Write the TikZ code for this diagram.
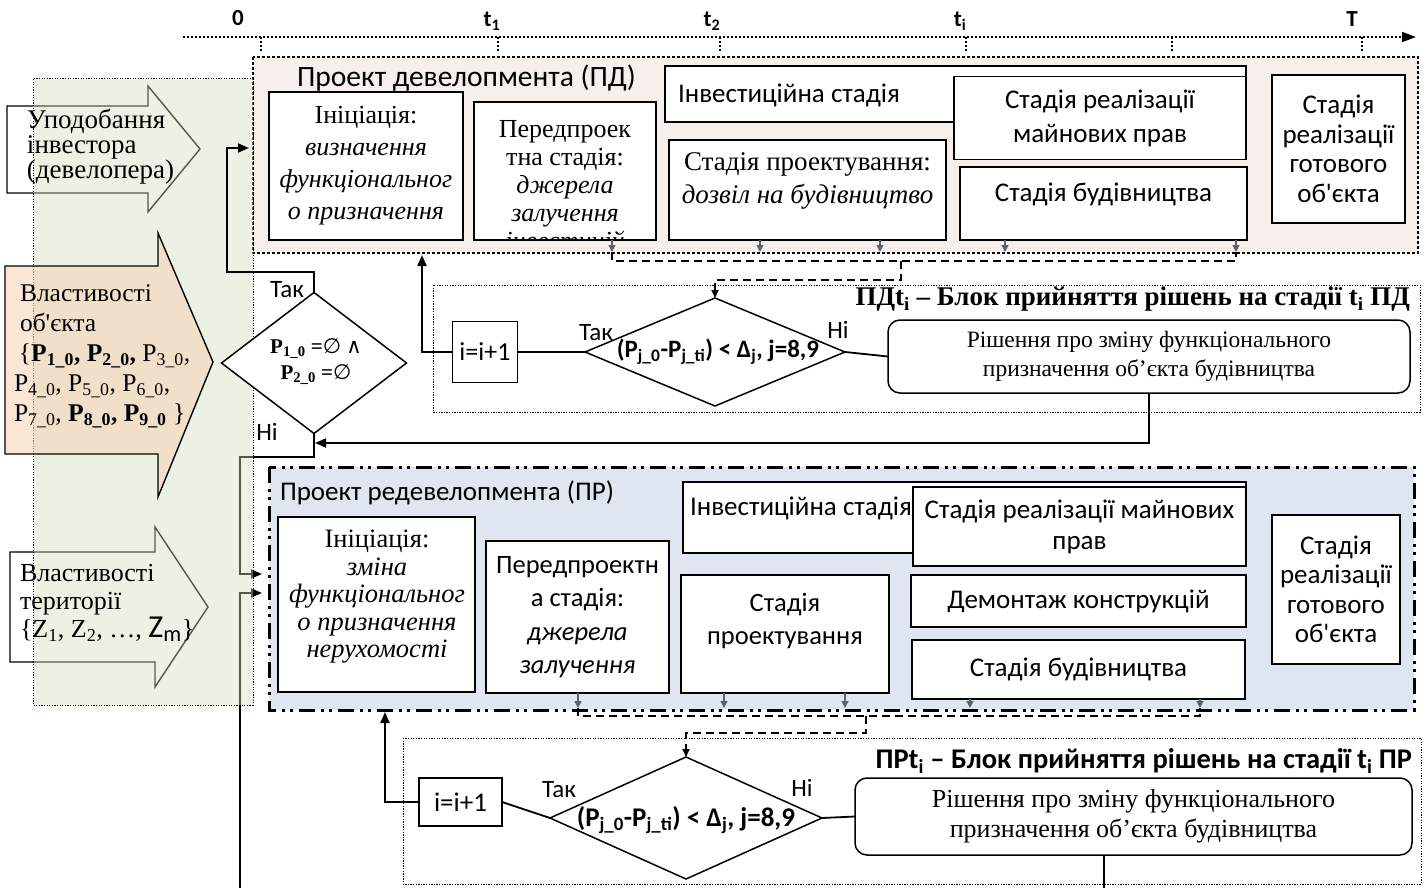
\documentclass[tikz,border=0pt]{standalone}
\usepackage{fontspec}
\setmainfont{Liberation Serif}
\setsansfont{Carlito}
\newfontfamily\symf{DejaVu Sans}
\usetikzlibrary{arrows.meta,shapes.geometric}
\definecolor{pdfill}{HTML}{F7EFEC}
\definecolor{prfill}{HTML}{DFE6F1}
\definecolor{grn}{HTML}{D2DCB9}
\definecolor{peach}{HTML}{F5D5B8}
\definecolor{tickgray}{HTML}{5A626B}
\newcommand{\fsz}[2]{\fontsize{#1pt}{#2pt}\selectfont}
\newcommand{\sbs}[1]{\textsubscript{#1}}
\newcommand{\apo}{\textquotesingle}
\pgfdeclarelayer{bg}
\pgfsetlayers{bg,main}
\tikzset{
  every node/.style={inner sep=0pt, outer sep=0pt},
  stagebox/.style={draw, line width=1.5pt, fill=white, align=center},
  sansA/.style={font=\sffamily\fsz{27}{34}, align=center},
  conn/.style={line width=1.8pt},
  arr/.style={conn, -{Triangle[length=11pt,width=9pt]}},
  tickarr/.style={draw=tickgray, line width=1.3pt, -{Triangle[length=7pt,width=7pt]}},
  dashconn/.style={line width=1.8pt, dash pattern=on 8pt off 5pt},
  pdframe/.style={draw, line width=2.6pt, dash pattern=on 3pt off 2pt, fill=pdfill},
  prframe/.style={draw, line width=3pt, dash pattern=on 16pt off 6pt on 3pt off 5pt on 3pt off 6pt, fill=prfill},
  thinframe/.style={draw, line width=1pt, dash pattern=on 1.3pt off 1.3pt},
  bigarrow/.style={draw, line width=1.4pt},
  lbl/.style={font=\sffamily\fsz{25}{26}},
  axislbl/.style={font=\sffamily\bfseries\fsz{23}{24}},
  decdia/.style={draw, diamond, line width=1.5pt, fill=white},
}
\begin{document}
\begin{tikzpicture}[x=1pt,y=-1pt]
\useasboundingbox (0,0) rectangle (1428,888);
\clip (0,0) rectangle (1428,888);
% time axis
\coordinate (ax0) at (183,37);
\coordinate (ax1) at (1416,37);
\draw[line width=1.6pt, dash pattern=on 2pt off 2pt, -{Triangle[length=14pt,width=10pt]}] (ax0) -- (ax1);
\foreach \x [count=\i] in {261,498,720,966,1172,1362} {
  \coordinate (tk\i) at (\x,37);
  \draw[line width=1.3pt, dash pattern=on 2pt off 2pt] (tk\i) -- ++(0,15);
}
\node[axislbl] (l0) at (238,18) {0};
\node[axislbl] (l1) at (492,21) {t\sbs{1}};
\node[axislbl] (l2) at (712,21) {t\sbs{2}};
\node[axislbl] (l3) at (960,21) {t\sbs{i}};
\node[axislbl] (l4) at (1352,19) {T};
% frames
\path[pdframe] (253,57) rectangle (1418,253);
\path[prframe] (269,467) rectangle (1414,710);
% left arrow shapes (under the green field)
\path[bigarrow, fill=white] (7,106) -- (148,106) -- (148,86) -- (200,149) -- (148,212) -- (148,193) -- (7,193) -- cycle;
\path[bigarrow, fill=white] (10,552) -- (155,552) -- (155,527) -- (208,607) -- (155,687) -- (155,662) -- (10,662) -- cycle;
% green field
\path[fill=grn, fill opacity=0.4, draw, line width=1pt, dash pattern=on 1.3pt off 1.3pt] (33,79) rectangle (253,705);
% peach arrow
\path[bigarrow, fill=peach, fill opacity=0.6] (5,266) -- (158,266) -- (158,233) -- (213,362) -- (158,497) -- (158,454) -- (5,454) -- cycle;
% arrow texts
\node[anchor=west, align=left, font=\fsz{27}{25}] (invtxt) at (27,147) {Уподобання\\інвестора\\(девелопера)};
\node[anchor=west, align=left, font=\fsz{25.5}{30}] (objtxt) at (14,356) {\hspace*{6pt}Властивості\\\hspace*{6pt}об\apo єкта\\\hspace*{5pt}\{\textbf{P\sbs{1\_0}, P\sbs{2\_0},} P\sbs{3\_0},\\P\sbs{4\_0}, P\sbs{5\_0}, P\sbs{6\_0},\\P\sbs{7\_0}, \textbf{P\sbs{8\_0}, P\sbs{9\_0}} \}};
\node[anchor=west, align=left, font=\fsz{26}{28}] (terrtxt) at (20,603) {Властивості\\території\\\{Z\sbs{1}, Z\sbs{2}, …, {\sffamily\fsz{32}{30}Z\sbs{m}}\}};
% P1 decision
\node[decdia, minimum width=185pt, minimum height=141pt] (p1dia) at (314,363) {};
\node[font=\bfseries\fsz{21}{26}, align=center] (p1txt) at (316,362) {P\sbs{1\_0} ={\symf\mdseries ∅} {\symf\mdseries ∧}\\P\sbs{2\_0} ={\symf\mdseries ∅}};
\node[lbl] (yes1) at (287,290) {Так};
\node[lbl] (no1) at (267,432) {Ні};
% PD project
\node[anchor=west, font=\sffamily\fsz{29.5}{30}] (pdtitle) at (297,78) {Проект девелопмента (ПД)};
\node[stagebox, minimum width=194pt, minimum height=148pt, font=\fsz{26}{32}] (pdinit) at (366,166) {Ініціація:\\\textit{визначення}\\\textit{функціональног}\\\textit{о призначення}};
\node[stagebox, minimum width=182pt, minimum height=138pt] (pdpre) at (565,171) {};
\begin{scope}
\clip (pdpre.south west) rectangle (pdpre.north east);
\node[font=\fsz{26}{28}, align=center] (pdpretxt) at (565,188) {Передпроек\\тна стадія:\\\textit{джерела}\\\textit{залучення}\\\textit{інвестицій}};
\end{scope}
\draw[line width=1.5pt] (pdpre.south west) rectangle (pdpre.north east);
\node[stagebox, minimum width=581pt, minimum height=56pt] (pdinv) at (955.5,94) {};
\node[sansA, anchor=west] (pdinvtxt) at (678,95) {Інвестиційна стадія};
\node[stagebox, minimum width=292pt, minimum height=83pt, sansA] (pdrights) at (1100,118) {Стадія реалізації\\майнових прав};
\node[stagebox, minimum width=277pt, minimum height=100pt] (pdproj) at (807.5,190) {};
\node[font=\fsz{27}{33}, align=center] (pdprojtxt) at (807.5,181) {Стадія проектування:\\\textit{дозвіл на будівництво}};
\node[stagebox, minimum width=287pt, minimum height=73pt] (pdbuild) at (1103.5,203.5) {};
\node[sansA] (pdbuildtxt) at (1103.5,194) {Стадія будівництва};
\node[stagebox, minimum width=133pt, minimum height=148pt, sansA, font=\sffamily\fsz{27}{29.5}] (pdready) at (1338.5,149) {Стадія\\реалізації\\готового\\об\apo єкта};
% PR project
\node[anchor=west, font=\sffamily\fsz{27}{28}] (prtitle) at (280,493) {Проект редевелопмента (ПР)};
\node[stagebox, minimum width=197pt, minimum height=175pt] (prinit) at (376.5,604.5) {};
\node[font=\fsz{26.5}{27.5}, align=center] (prinittxt) at (377,597) {Ініціація:\\\textit{зміна}\\\textit{функціональног}\\\textit{о призначення}\\\textit{нерухомості}};
\node[stagebox, minimum width=183pt, minimum height=152pt, font=\sffamily\fsz{26.5}{33.5}] (prpre) at (577.5,617) {Передпроектн\\а стадія:\\\textit{джерела}\\\textit{залучення}};
\node[stagebox, minimum width=563pt, minimum height=71pt] (prinv) at (964.5,517.5) {};
\node[sansA, anchor=west] (prinvtxt) at (690,508) {Інвестиційна стадія};
\node[stagebox, minimum width=333pt, minimum height=79pt, sansA, font=\sffamily\fsz{27}{31}] (prrights) at (1079.5,526.5) {Стадія реалізації майнових\\прав};
\node[stagebox, minimum width=208pt, minimum height=118pt] (prproj) at (785,634) {};
\node[sansA, font=\sffamily\fsz{26.5}{33}] (prprojtxt) at (785,621) {Стадія\\проектування};
\node[stagebox, minimum width=335pt, minimum height=52pt, sansA] (prdemo) at (1078.5,601) {Демонтаж конструкцій};
\node[stagebox, minimum width=333pt, minimum height=59pt, sansA] (prbuild) at (1078.5,669.5) {Стадія будівництва};
\node[stagebox, minimum width=128pt, minimum height=149pt, sansA, font=\sffamily\fsz{27}{29.5}] (prready) at (1336,589.5) {Стадія\\реалізації\\готового\\об\apo єкта};
% PD decision block
\path[thinframe] (433,285) rectangle (1420,412);
\node[font=\bfseries\fsz{27}{28}, anchor=east] (pdhdr) at (1410,299) {ПДt\sbs{i} – Блок прийняття рішень на стадії t\sbs{i} ПД};
\node[stagebox, minimum width=65pt, minimum height=61pt, font=\sffamily\fsz{26}{26}] (pdinc) at (485,352) {i=i+1};
\node[decdia, minimum width=260pt, minimum height=108pt] (pddia) at (715,352) {};
\node[font=\sffamily\bfseries\fsz{25}{26}] (pddiatxt) at (718,352) {(P\sbs{j\_0}-P\sbs{j\_ti}) < Δ\sbs{j}, j=8,9};
\node[stagebox, rounded corners=12pt, minimum width=522pt, minimum height=73pt, font=\fsz{23.5}{29}] (pdround) at (1149,356.5) {Рішення про зміну функціонального\\призначення об’єкта будівництва};
\node[lbl] (yes2) at (596,333) {Так};
\node[lbl] (no2) at (838,330) {Ні};
% PR decision block
\path[thinframe] (403,738) rectangle (1421,884);
\node[font=\sffamily\bfseries\fsz{28.5}{29}, anchor=east] (prhdr) at (1412,761) {ПРt\sbs{i} – Блок прийняття рішень на стадії t\sbs{i} ПР};
\node[stagebox, minimum width=83pt, minimum height=48pt, font=\sffamily\fsz{27}{27}] (princ) at (460.5,802) {i=i+1};
\node[decdia, minimum width=272pt, minimum height=122pt] (prdia) at (686,818) {};
\node[font=\sffamily\bfseries\fsz{27}{28}] (prdiatxt) at (686,820) {(P\sbs{j\_0}-P\sbs{j\_ti}) < Δ\sbs{j}, j=8,9};
\node[stagebox, rounded corners=12pt, minimum width=557pt, minimum height=77pt, font=\fsz{26}{30}] (prround) at (1133.5,816.5) {Рішення про зміну функціонального\\призначення об’єкта будівництва};
\node[lbl] (yes3) at (559,790) {Так};
\node[lbl] (no3) at (802,788) {Ні};
% connectors
\coordinate (c1) at (314,272); \coordinate (c2) at (227,272); \coordinate (c3) at (227,148); \coordinate (pdin) at (249,148);
\draw[arr] (p1dia.north) -- (c1) -- (c2) -- (c3) -- (pdin);
\coordinate (c4) at (422,352); \coordinate (pdbot) at (422,255);
\draw[arr] (pdinc.west) -- (c4) -- (pdbot);
\draw[conn] (pdinc.east) -- (pddia.west);
\draw[conn] (pddia.east) -- (pdround.west);
\coordinate (c5) at (1149,443); \coordinate (j1) at (315,443);
\draw[arr] (pdround.south) -- (c5) -- (j1);
\coordinate (c6) at (385,802); \coordinate (prbot) at (385,712);
\draw[arr] (princ.west) -- (c6) -- (prbot);
\draw[conn] (princ.east) -- (prdia.west);
\draw[conn] (prdia.east) -- (prround.west);
\begin{pgfonlayer}{bg}
\coordinate (d1) at (314,457); \coordinate (d2) at (240,457); \coordinate (d3) at (240,574); \coordinate (prin1) at (262,574);
\draw[arr] (p1dia.south) -- (d1) -- (d2) -- (d3) -- (prin1);
\coordinate (e0) at (1104,855); \coordinate (e1) at (1104,900); \coordinate (e2) at (240,900); \coordinate (e3) at (240,593); \coordinate (prin2) at (262,593);
\draw[arr] (e0) -- (e1) -- (e2) -- (e3) -- (prin2);
\end{pgfonlayer}
% collectors PD
\foreach \x [count=\i] in {612,760,880,1005,1236} {
  \coordinate (pa\i) at (\x,240); \coordinate (pb\i) at (\x,252);
  \draw[tickarr] (pa\i) -- (pb\i);
}
\coordinate (pc0) at (612,261); \coordinate (pc1) at (1236,261);
\coordinate (pc2) at (901,261); \coordinate (pc3) at (901,280);
\draw[dashconn] (pb1) -- (pc0) -- (pc1) -- (pb5);
\draw[dashconn, -{Triangle[length=8pt,width=7pt]}] (pc2) -- (pc3) -| (pddia.north);
% collectors PR
\foreach \x/\y [count=\i] in {578/693,724/693,845/693,970/699,1200/699} {
  \coordinate (qa\i) at (\x,\y); \coordinate (qb\i) at (\x,708);
  \draw[tickarr] (qa\i) -- (qb\i);
}
\coordinate (qc0) at (578,716); \coordinate (qc1) at (1200,716);
\coordinate (qc2) at (866,716); \coordinate (qc3) at (866,733);
\draw[dashconn] (qb1) -- (qc0) -- (qc1) -- (qb5);
\draw[dashconn, -{Triangle[length=8pt,width=7pt]}] (qc2) -- (qc3) -| (prdia.north);
\end{tikzpicture}
\end{document}
